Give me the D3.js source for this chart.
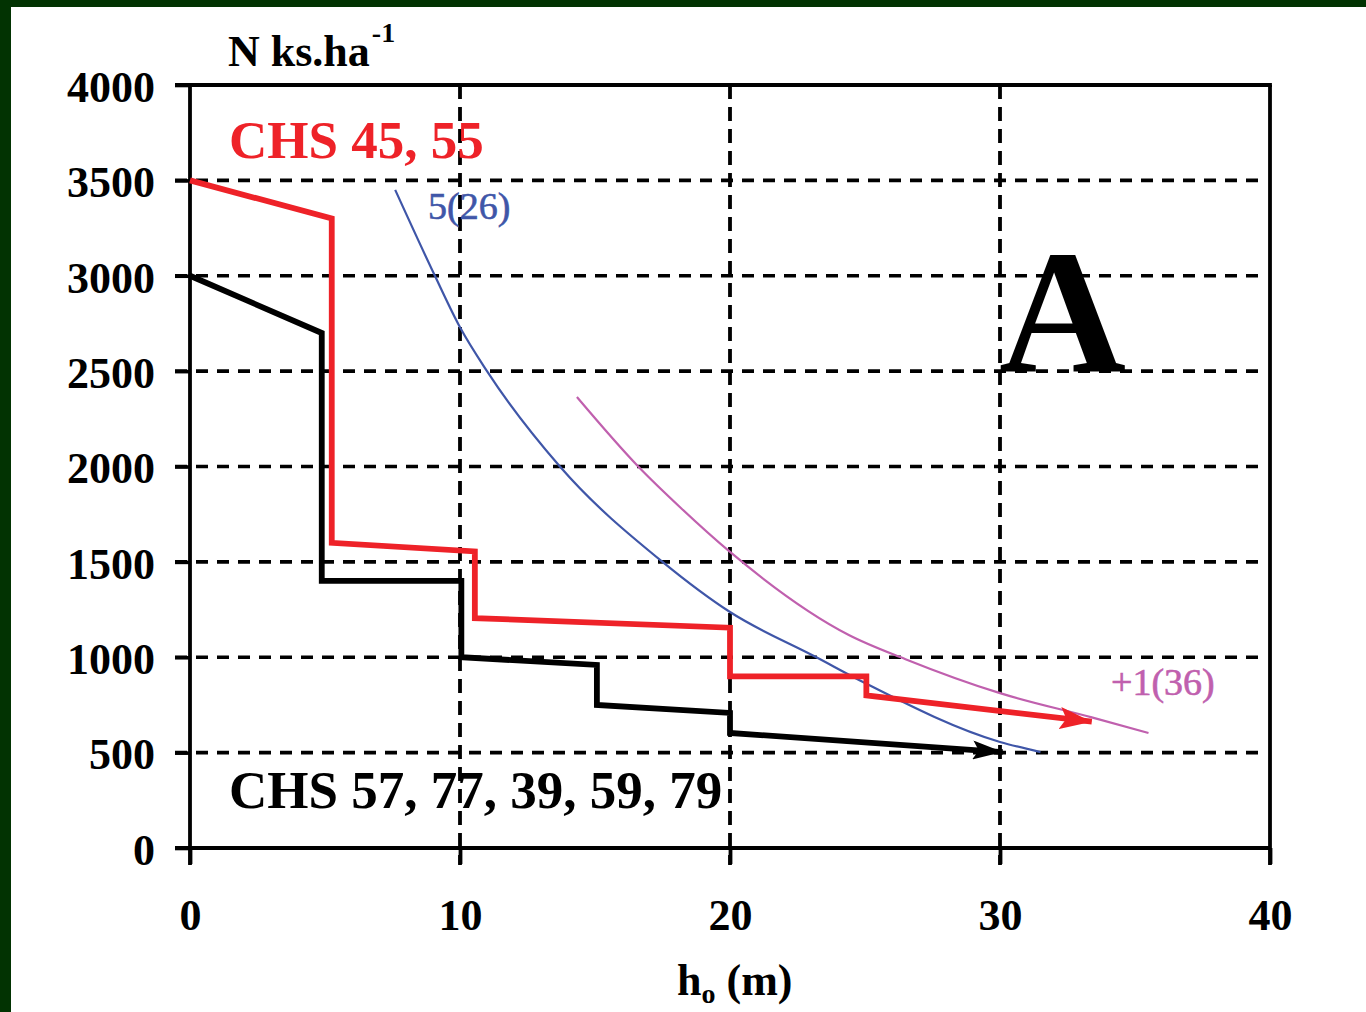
<!DOCTYPE html>
<html>
<head>
<meta charset="utf-8">
<script src="https://cdn.jsdelivr.net/npm/d3@7"></script>
<style>
  html, body { margin: 0; padding: 0; background: #ffffff; }
  svg { display: block; }
  text { font-family: "Liberation Serif", "Times New Roman", serif; }
</style>
</head>
<body>
<svg id="chart" width="1366" height="1012"></svg>
<script>
// ---- data ----
const xTicks = [0, 10, 20, 30, 40];
const yTicks = [0, 500, 1000, 1500, 2000, 2500, 3000, 3500, 4000];
const xGrid = [10, 20, 30];
const yGrid = [500, 1000, 1500, 2000, 2500, 3000, 3500];

// CHS 45, 55 (red stepped line)
const redX = [0, 5.25, 5.25, 10.55, 10.55, 20, 20, 25.05, 25.05, 33.4];
const redY = [3500, 3300, 1600, 1555, 1205, 1155, 900, 900, 800, 662];

// CHS 57, 77, 39, 59, 79 (black stepped line)
const blackX = [0, 4.88, 4.88, 10.05, 10.05, 15.07, 15.07, 20, 20, 30.1];
const blackY = [3000, 2700, 1400, 1400, 1000, 960, 750, 708, 603, 503];

// 5(26) curve (blue)
const blueX = [7.6, 9.07, 10, 11, 13.7, 17.5, 20, 23.2, 25, 30, 31.5];
const blueY = [3450, 3000, 2730, 2500, 2000, 1500, 1237, 1000, 865, 556, 503];

// +1(36) curve (magenta)
const magX = [14.33, 16.6, 18.2, 20, 24.4, 26.5, 30, 33.4, 35.5];
const magY = [2364, 2000, 1780, 1552, 1117, 990, 812, 685, 603];

// ---- chart ----
const svg = d3.select("#chart");
const W = 1366, H = 1012;

svg.append("rect").attr("width", W).attr("height", H).attr("fill", "#ffffff");
svg.append("rect").attr("x", 0).attr("y", 0).attr("width", 11).attr("height", H).attr("fill", "#023302");
svg.append("rect").attr("x", 0).attr("y", 0).attr("width", W).attr("height", 7).attr("fill", "#023302");

const x = d3.scaleLinear().domain([0, 40]).range([190, 1270]);
const y = d3.scaleLinear().domain([0, 4000]).range([848, 85]);

const defs = svg.append("defs");
function marker(id, color, len, wid) {
  defs.append("marker")
    .attr("id", id)
    .attr("markerUnits", "userSpaceOnUse")
    .attr("viewBox", `0 0 ${len} ${wid}`)
    .attr("refX", len).attr("refY", wid / 2)
    .attr("markerWidth", len).attr("markerHeight", wid)
    .attr("orient", "auto")
    .append("path")
    .attr("d", `M0,0 L${len},${wid / 2} L0,${wid} L${len * 0.2},${wid / 2} Z`)
    .attr("fill", color);
}
marker("arrRed", "#ee2228", 32, 22);
marker("arrBlack", "#000000", 30, 19);

// grid
const grid = svg.append("g");
grid.selectAll("line.h").data(yGrid).join("line")
  .attr("x1", 175).attr("x2", 1262)
  .attr("y1", d => y(d)).attr("y2", d => y(d))
  .attr("stroke", "#000").attr("stroke-width", 3.6)
  .attr("stroke-dasharray", "12,9");
grid.selectAll("line.v").data(xGrid).join("line")
  .attr("x1", d => x(d)).attr("x2", d => x(d))
  .attr("y1", 85).attr("y2", 865)
  .attr("stroke", "#000").attr("stroke-width", 3.8)
  .attr("stroke-dasharray", "14,8");

// frame lines
const frame = svg.append("g").attr("stroke", "#000").attr("stroke-width", 3.8);
frame.append("line").attr("x1", 175).attr("x2", x(40) + 1.9).attr("y1", y(4000)).attr("y2", y(4000));
frame.append("line").attr("x1", 175).attr("x2", x(40)).attr("y1", y(0)).attr("y2", y(0));
frame.append("line").attr("x1", x(0)).attr("x2", x(0)).attr("y1", y(4000)).attr("y2", 865);
frame.append("line").attr("x1", x(40)).attr("x2", x(40)).attr("y1", y(4000)).attr("y2", 865);

// axes (labels + ticks)
const yAxis = d3.axisLeft(y).tickValues(yTicks).tickSize(15).tickPadding(20).tickFormat(d3.format("d"));
const gy = svg.append("g").attr("transform", `translate(${x(0)},0)`).call(yAxis);
gy.select(".domain").remove();
gy.selectAll(".tick line").attr("stroke", "#000").attr("stroke-width", 3.6);
gy.selectAll(".tick text")
  .attr("font-family", "Liberation Serif").attr("font-weight", "bold")
  .attr("font-size", 44).attr("fill", "#000").attr("dy", "0.37em");

const xAxis = d3.axisBottom(x).tickValues(xTicks).tickSize(16).tickPadding(35).tickFormat(d3.format("d"));
const gx = svg.append("g").attr("transform", `translate(0,${y(0)})`).call(xAxis);
gx.select(".domain").remove();
gx.selectAll(".tick line").attr("stroke", "#000").attr("stroke-width", 3.8);
gx.selectAll(".tick text")
  .attr("font-family", "Liberation Serif").attr("font-weight", "bold")
  .attr("font-size", 44).attr("fill", "#000");

// curves
const curveLine = (xs, ys) => d3.line().curve(d3.curveMonotoneX)
  .x((d, i) => x(xs[i])).y((d, i) => y(ys[i]))(xs);
svg.append("path").attr("d", curveLine(blueX, blueY))
  .attr("fill", "none").attr("stroke", "#3f56a8").attr("stroke-width", 2.2);
svg.append("path").attr("d", curveLine(magX, magY))
  .attr("fill", "none").attr("stroke", "#c060ae").attr("stroke-width", 2.2);

// step lines
const polyLine = (xs, ys) => d3.line().x((d, i) => x(xs[i])).y((d, i) => y(ys[i]))(xs);
svg.append("path").attr("d", polyLine(blackX, blackY))
  .attr("fill", "none").attr("stroke", "#000").attr("stroke-width", 5.8)
  .attr("stroke-linejoin", "miter").attr("marker-end", "url(#arrBlack)");
svg.append("path").attr("d", polyLine(redX, redY))
  .attr("fill", "none").attr("stroke", "#ee2228").attr("stroke-width", 5.8)
  .attr("stroke-linejoin", "miter").attr("marker-end", "url(#arrRed)");

// texts
const t1 = svg.append("text").attr("x", 228).attr("y", 66)
  .attr("font-weight", "bold").attr("font-size", 44).attr("fill", "#000");
t1.append("tspan").text("N ks.ha");
t1.append("tspan").attr("font-size", 28).attr("dx", 2).attr("dy", -24).text("-1");

svg.append("text").attr("x", 229).attr("y", 158)
  .attr("font-weight", "bold").attr("font-size", 53).attr("fill", "#ee2228")
  .text("CHS 45, 55");

svg.append("text").attr("x", 229).attr("y", 808)
  .attr("font-weight", "bold").attr("font-size", 53).attr("fill", "#000")
  .text("CHS 57, 77, 39, 59, 79");

svg.append("text").attr("x", 428).attr("y", 219)
  .attr("font-size", 38).attr("fill", "#3f56a8")
  .attr("stroke", "#3f56a8").attr("stroke-width", 0.6).text("5(26)");

svg.append("text").attr("x", 1111).attr("y", 695)
  .attr("font-size", 38).attr("fill", "#c060ae")
  .attr("stroke", "#c060ae").attr("stroke-width", 0.6).text("+1(36)");

svg.append("text").attr("x", 999).attr("y", 371)
  .attr("font-weight", "bold").attr("font-size", 176).attr("fill", "#000").text("A");

const xt = svg.append("text").attr("x", 677).attr("y", 995)
  .attr("font-weight", "bold").attr("font-size", 44).attr("fill", "#000");
xt.append("tspan").text("h");
xt.append("tspan").attr("font-size", 28).attr("dy", 8).text("o");
xt.append("tspan").attr("dy", -8).text(" (m)");
</script>
</body>
</html>
